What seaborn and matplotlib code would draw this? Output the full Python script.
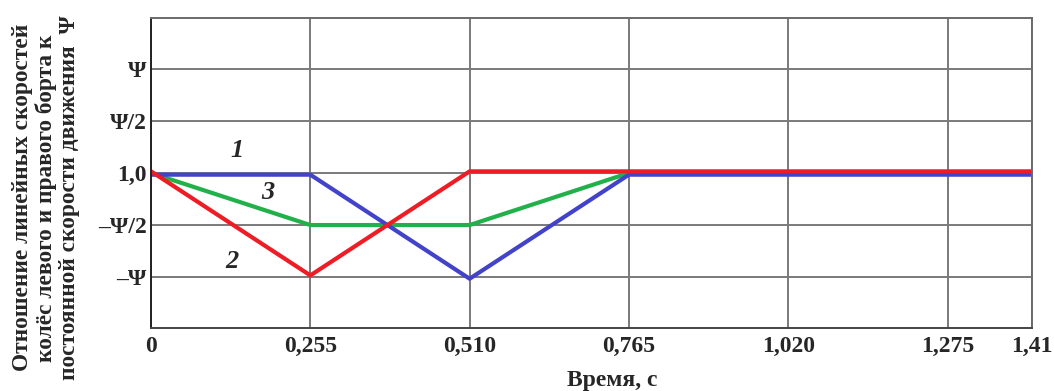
import matplotlib
matplotlib.use("Agg")
import matplotlib.pyplot as plt
import matplotlib.transforms as mtransforms
import seaborn as sns
import pandas as pd

# ---- data ----
time_ticks = [0, 0.255, 0.510, 0.765, 1.020, 1.275, 1.41]
time_labels = ["0", "0,255", "0,510", "0,765", "1,020", "1,275", "1,41"]
level_values = [-2, -1, 0, 1, 2]
level_labels = ["\u2013\u03A8", "\u2013\u03A8/2", "1,0", "\u03A8/2", "\u03A8"]

t1 = [0, 0.255, 0.510, 0.765, 1.41]
y1 = [0, 0, -2, 0, 0]          # curve 1 (blue)
t2 = [0, 0.255, 0.510, 0.765, 1.41]
y2 = [0, -2, 0, 0, 0]          # curve 2 (red)
t3 = [0, 0.255, 0.510, 0.765]
y3 = [0, -1, -1, 0]            # curve 3 (green)

series_names = ["1", "2", "3"]
series_colors = ["#4343c9", "#ee1c25", "#22b04b"]

df = pd.concat([
    pd.DataFrame({"t": t1, "y": y1, "s": "1"}),
    pd.DataFrame({"t": t2, "y": y2, "s": "2"}),
    pd.DataFrame({"t": t3, "y": y3, "s": "3"}),
], ignore_index=True)

sns.set_style("white")
plt.rcParams["font.family"] = ["Liberation Serif", "DejaVu Serif"]

fig = plt.figure(figsize=(10.54, 3.91), dpi=100)
ax = fig.add_axes([0.1433, 0.161, 0.8357, 0.793])

ax.set_xlim(0, 1.41)
ax.set_ylim(-2.98, 2.98)
ax.set_xticks(time_ticks)
ax.set_xticklabels(time_labels, fontsize=17, fontweight="bold")
ax.set_yticks(level_values)
ax.set_yticklabels(level_labels, fontsize=17, fontweight="bold")
ax.tick_params(axis="x", length=0, pad=6)
ax.tick_params(axis="y", length=0, pad=3)
ax.grid(True, color="#7a7a7a", linewidth=1.4)
ax.set_axisbelow(True)
for sp in ax.spines.values():
    sp.set_color("#6a6a6a")
    sp.set_linewidth(1.4)
ax.spines["left"].set_color("#222222")
ax.spines["bottom"].set_color("#444444")

pal = dict(zip(series_names, series_colors))
sns.lineplot(data=df[df.s == "3"], x="t", y="y", color=pal["3"], lw=3.0, ax=ax, legend=False)
sns.lineplot(data=df[df.s == "1"], x="t", y="y", color=pal["1"], lw=3.0, ax=ax, legend=False)
sns.lineplot(data=df[df.s == "2"], x="t", y="y", color=pal["2"], lw=3.0, ax=ax, legend=False)
lines = ax.get_lines()
# small visual separation of the overlapping red/blue lines
lines[1].set_transform(mtransforms.offset_copy(ax.transData, fig=fig, x=0, y=-1.2, units="points"))
lines[2].set_transform(mtransforms.offset_copy(ax.transData, fig=fig, x=0, y=1.2, units="points"))

ax.set_xlabel("Время, с", fontsize=17, fontweight="bold")
ax.xaxis.set_label_coords(0.523, -0.135)
ax.set_ylabel("Отношение линейных скоростей\nколёс левого и правого борта к\nпостоянной скорости движения  \u03A8",
              fontsize=16.8, fontweight="bold", linespacing=1.12)
ax.yaxis.set_label_coords(-0.081, 0.42)

ax.text(0.138, 0.44, "1", fontsize=19, fontweight="bold", fontstyle="italic", ha="center", va="center")
ax.text(0.187, -0.37, "3", fontsize=19, fontweight="bold", fontstyle="italic", ha="center", va="center")
ax.text(0.130, -1.71, "2", fontsize=19, fontweight="bold", fontstyle="italic", ha="center", va="center")

fig.savefig("out.png", dpi=100)
